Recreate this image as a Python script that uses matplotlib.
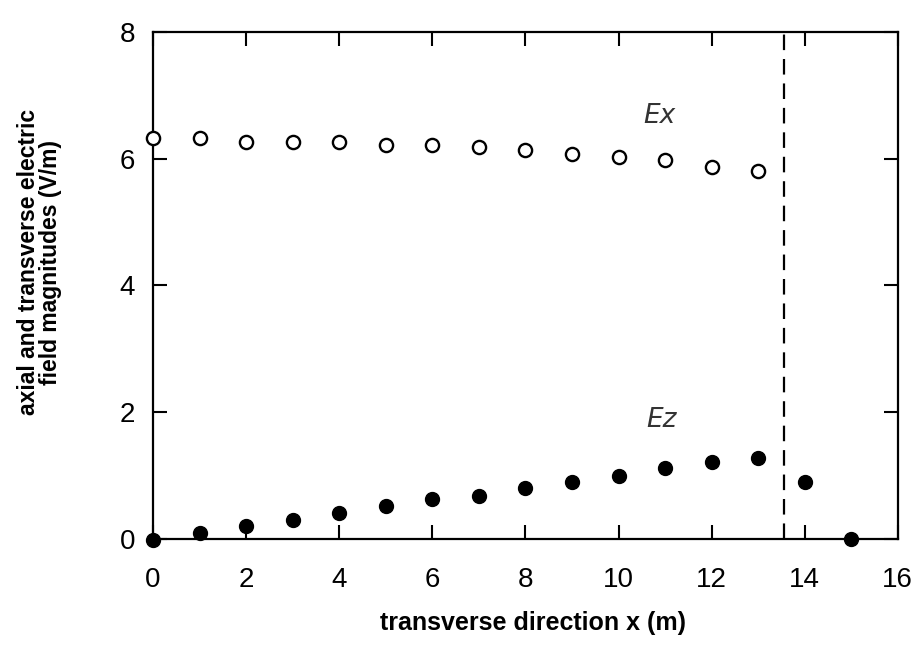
import numpy as np
import matplotlib.pyplot as plt

# datos
x_ex = [0, 1, 2, 3, 4, 5, 6, 7, 8, 9, 10, 11, 12, 13]
ex = [6.32, 6.33, 6.26, 6.26, 6.26, 6.21, 6.22, 6.18, 6.13, 6.07, 6.02, 5.98, 5.87, 5.81]

x_ez = [0, 1, 2, 3, 4, 5, 6, 7, 8, 9, 10, 11, 12, 13, 14, 15]
ez = [-0.02, 0.10, 0.21, 0.30, 0.41, 0.52, 0.63, 0.68, 0.80, 0.90, 0.99, 1.12, 1.21, 1.28, 0.90, 0.0]

x_limite = 13.55
xticks = [0, 2, 4, 6, 8, 10, 12, 14, 16]
yticks = [0, 2, 4, 6, 8]

plt.rcParams['font.family'] = ['Liberation Sans', 'DejaVu Sans']

fig = plt.figure(figsize=(9.18, 6.62), dpi=100)
ax = fig.add_axes([0.1667, 0.1858, 0.8113, 0.7659])

ax.plot(x_ex, ex, 'o', mfc='white', mec='black', mew=1.7, ms=9.5, clip_on=False, zorder=3)
ax.plot(x_ez, ez, 'o', color='black', ms=10, clip_on=False, zorder=3)
ax.axvline(x_limite, color='black', lw=1.6, ls=(0, (7, 4)))

# etiquetas de las curvas (finas, cursiva)
ax.text(10.88, 6.68, 'Ex', fontsize=19, fontstyle='italic', color='#333333', ha='center', va='center',
        family='DejaVu Sans', fontweight='light')
ax.text(10.92, 1.87, 'Ez', fontsize=19, fontstyle='italic', color='#333333', ha='center', va='center',
        family='DejaVu Sans', fontweight='light')

ax.set_xlim(0, 16)
ax.set_ylim(0, 8)
ax.set_xticks(xticks)
ax.set_yticks(yticks)
ax.tick_params(direction='in', length=10, width=1.5, top=True, right=True, labelsize=20)
ax.tick_params(axis='x', pad=20)
ax.tick_params(axis='y', pad=13)
for s in ax.spines.values():
    s.set_linewidth(1.6)

ax.set_xlabel('transverse direction x (m)', fontsize=18, fontweight='bold')
ax.xaxis.set_label_coords(0.51, -0.142)
ax.set_ylabel('axial and transverse electric\nfield magnitudes (V/m)', fontsize=16.5, fontweight='bold',
              linespacing=0.95)
ax.yaxis.set_label_coords(-0.122, 0.546)

fig.savefig('out.png', dpi=100)
